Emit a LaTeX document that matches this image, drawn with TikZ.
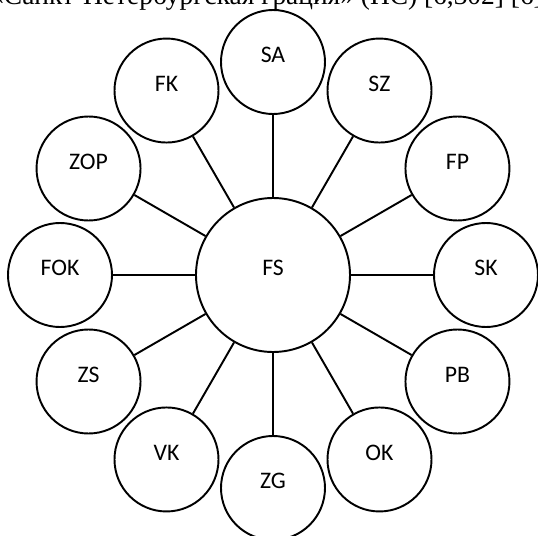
\documentclass[tikz,border=0pt]{standalone}
\usepackage{fontspec}
\setmainfont{Liberation Serif}
\newfontfamily\etiqueta{Carlito}
\usepackage{tikz}
\usetikzlibrary{positioning}
\tikzstyle{centro} = [draw, circle, line width=1.1pt, minimum size=3.08cm, inner sep=0pt, font=\etiqueta\fontsize{13.5}{14}\selectfont, text height=8.7pt, text depth=8pt]
\tikzstyle{satelite} = [draw, circle, line width=1.1pt, minimum size=2.08cm, inner sep=0pt, font=\etiqueta\fontsize{13.5}{14}\selectfont, text height=8.7pt, text depth=8pt]
\tikzstyle{enlace} = [line width=1.1pt]
\tikzstyle{cabecera} = [inner sep=0pt, anchor=base, font=\fontsize{15.6}{16}\selectfont]

\begin{document}
\begin{tikzpicture}
	\clip (-5.46,-5.20) rectangle (5.30,5.50);
	\fill[white] (-5.46,-5.20) rectangle (5.30,5.50);
	% linea cortada del texto de arriba
	\node[cabecera] (titulo) at (-0.06,5.41) {«Санкт-Петербургская грация» (ПС) [6,302] [6].};
	% circulo central
	\node[centro] (FS) at (0,0) {FS};
	% circulos de alrededor
	\node[satelite] (SA)  at (90:4.26)  {SA};
	\node[satelite] (SZ)  at (60:4.26)  {SZ};
	\node[satelite] (FP)  at (30:4.26)  {FP};
	\node[satelite] (SK)  at (0:4.26)   {SK};
	\node[satelite] (PB)  at (-30:4.26) {PB};
	\node[satelite] (OK)  at (-60:4.26) {OK};
	\node[satelite] (ZG)  at (-90:4.26) {ZG};
	\node[satelite] (VK)  at (-120:4.26) {VK};
	\node[satelite] (ZS)  at (-150:4.26) {ZS};
	\node[satelite] (FOK) at (180:4.26) {FOK};
	\node[satelite] (ZOP) at (150:4.26) {ZOP};
	\node[satelite] (FK)  at (120:4.26) {FK};
	% enlaces
	\draw[enlace] (FS) -- (SA);
	\draw[enlace] (FS) -- (SZ);
	\draw[enlace] (FS) -- (FP);
	\draw[enlace] (FS) -- (SK);
	\draw[enlace] (FS) -- (PB);
	\draw[enlace] (FS) -- (OK);
	\draw[enlace] (FS) -- (ZG);
	\draw[enlace] (FS) -- (VK);
	\draw[enlace] (FS) -- (ZS);
	\draw[enlace] (FS) -- (FOK);
	\draw[enlace] (FS) -- (ZOP);
	\draw[enlace] (FS) -- (FK);
\end{tikzpicture}
\end{document}
